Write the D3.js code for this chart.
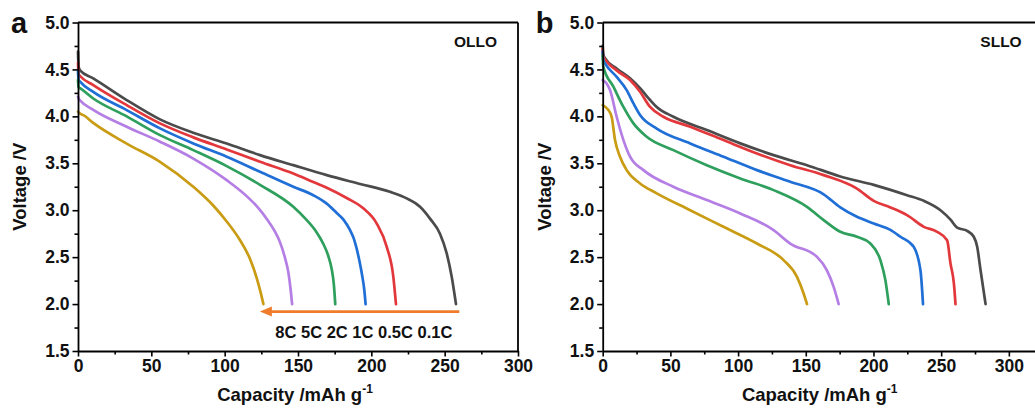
<!DOCTYPE html>
<html>
<head>
<meta charset="utf-8">
<script src="https://cdn.jsdelivr.net/npm/d3@7"></script>
<style>
  html, body { margin: 0; padding: 0; background: #fff; }
  svg { display: block; font-family: "Liberation Sans", Arial, sans-serif; }
</style>
</head>
<body>
<svg id="chart" width="1035" height="410"></svg>
<script>
// C-rates, drawn slowest to fastest
const rates = ["0.1C", "0.5C", "1C", "2C", "5C", "8C"];
const rateColors = ["#4b4b4b", "#e2383c", "#1f6fd6", "#2e9f5c", "#b47ee4", "#c99c14"];

// Discharge curves of OLLO: [capacity mAh/g, voltage V]
const ollo01C = [[0,4.69],[0.4,4.53],[1.4,4.49],[10.4,4.405],[33.2,4.174],[55.9,3.968],[78.6,3.825],[101.4,3.71],[124.1,3.587],[146.8,3.48],[169.6,3.374],[192.3,3.28],[212.7,3.196],[224.1,3.126],[233.2,3.036],[240,2.91],[246.8,2.75],[251.4,2.54],[254.8,2.29],[257.7,2.0]];
const ollo05C = [[0,4.57],[0.4,4.45],[1.4,4.43],[10.4,4.334],[33.2,4.12],[55.9,3.925],[78.6,3.776],[101.4,3.648],[124.1,3.516],[146.8,3.39],[160.4,3.3],[169.6,3.24],[183.2,3.13],[194.5,3.02],[203.6,2.86],[210.5,2.61],[215,2.29],[216.8,2.0]];
const ollo1C  = [[0,4.48],[0.4,4.39],[1.4,4.37],[10.4,4.26],[33.2,4.067],[55.9,3.872],[78.6,3.712],[101.4,3.57],[124.1,3.41],[146.8,3.25],[160.4,3.16],[169.6,3.07],[176.4,2.97],[181,2.9],[185.4,2.79],[188,2.7],[190,2.59],[192,2.45],[193.8,2.3],[195.2,2.15],[196.1,2.0]];
const ollo2C  = [[0,4.39],[0.4,4.31],[1.4,4.3],[10.4,4.19],[33.2,4.0],[55.9,3.8],[78.6,3.64],[101.4,3.47],[124.1,3.27],[146.8,3.036],[155,2.91],[162,2.78],[167,2.65],[170.5,2.52],[173,2.37],[174.5,2.2],[175.4,2.0]];
const ollo5C  = [[0,4.21],[0.4,4.19],[1.4,4.17],[10.4,4.07],[33.2,3.89],[55.9,3.73],[78.6,3.55],[101.4,3.32],[115,3.15],[122,3.04],[128.6,2.91],[134,2.78],[137.7,2.66],[141,2.5],[143.4,2.34],[145,2.15],[146,2.0]];
const ollo8C  = [[0,4.05],[1.4,4.03],[4,4.01],[10.4,3.93],[33.2,3.71],[55.9,3.516],[78.6,3.25],[92.2,3.05],[101.4,2.88],[110.5,2.68],[117.3,2.48],[121.8,2.28],[124.6,2.12],[126.4,2.0]];

// Discharge curves of SLLO: [capacity mAh/g, voltage V]
const sllo01C = [[0,4.75],[0.4,4.66],[1.7,4.62],[10.3,4.51],[20.2,4.405],[27.6,4.3],[35,4.174],[39.9,4.1],[52.2,3.996],[76.9,3.854],[101.6,3.712],[126.2,3.587],[150.9,3.48],[175.5,3.36],[200.2,3.27],[224.8,3.16],[237.2,3.1],[249.5,3.0],[256.9,2.9],[261.8,2.815],[269.2,2.78],[274.1,2.717],[276.6,2.61],[279.1,2.36],[282.8,2.0]];
const sllo05C = [[0,4.72],[0.4,4.64],[10.3,4.49],[20.2,4.387],[27.6,4.262],[35,4.1],[44.8,3.996],[64.6,3.89],[89.2,3.747],[113.9,3.605],[138.5,3.48],[163.2,3.374],[187.8,3.23],[200.2,3.1],[212.5,3.03],[224.8,2.948],[237.2,2.823],[247,2.77],[254.4,2.68],[256.9,2.432],[259.4,2.22],[260.6,2.0]];
const sllo1C  = [[0,4.69],[0.4,4.6],[1.7,4.565],[10.3,4.42],[17.7,4.28],[22.7,4.138],[27.6,4.014],[39.9,3.87],[64.6,3.712],[89.2,3.57],[113.9,3.427],[138.5,3.303],[163.2,3.17],[175.5,3.03],[187.8,2.93],[200.2,2.859],[212.5,2.79],[219.9,2.717],[229.7,2.61],[234.7,2.36],[236.6,2.0]];
const sllo2C  = [[0,4.65],[0.4,4.53],[7.9,4.316],[15.3,4.1],[22.7,3.925],[32.5,3.783],[52.2,3.64],[76.9,3.48],[101.6,3.339],[126.2,3.214],[150.9,3.036],[163.2,2.895],[175.5,2.77],[187.8,2.717],[197.7,2.645],[205.1,2.468],[208.8,2.255],[211.3,2.0]];
const sllo5C  = [[0,4.387],[2.9,4.35],[5.4,4.28],[10.3,3.996],[15.3,3.747],[20.2,3.57],[30.1,3.427],[52.2,3.25],[76.9,3.108],[101.6,2.965],[126.2,2.788],[138.5,2.645],[158.3,2.503],[165.6,2.36],[170.6,2.184],[174.3,2.0]];
const sllo8C  = [[0,4.12],[4.2,4.067],[6.6,3.996],[9.1,3.747],[12.8,3.57],[17.7,3.427],[27.6,3.285],[39.9,3.18],[64.6,3.0],[89.2,2.823],[113.9,2.645],[133.6,2.468],[143.5,2.29],[148.4,2.113],[150.9,2.0]];

// Axis settings
const yTicks = [1.5, 2.0, 2.5, 3.0, 3.5, 4.0, 4.5, 5.0];
const xTicks = [0, 50, 100, 150, 200, 250, 300];
const yTitle = "Voltage /V";
const xTitle = "Capacity /mAh g";

// Rate arrow in panel a (capacity from, capacity to, voltage)
const arrowFrom = 260, arrowTo = 124, arrowV = 1.92;
const arrowLabel = "8C 5C 2C 1C 0.5C 0.1C";

const panels = [
  { letter: "a", name: "OLLO", left: 78, xMax: 300, series: [ollo01C, ollo05C, ollo1C, ollo2C, ollo5C, ollo8C], arrow: true },
  { letter: "b", name: "SLLO", left: 602.7, xMax: 325, series: [sllo01C, sllo05C, sllo1C, sllo2C, sllo5C, sllo8C], arrow: false }
];

const svg = d3.select("#chart");
const plotW = 440, plotTop = 22.5, plotBottom = 351;

panels.forEach(p => {
  const x = d3.scaleLinear().domain([0, p.xMax]).range([p.left, p.left + plotW]);
  const y = d3.scaleLinear().domain([1.5, 5.0]).range([plotBottom, plotTop]);
  const g = svg.append("g");

  // curves
  const line = d3.line().x(d => x(d[0])).y(d => y(d[1])).curve(d3.curveMonotoneX);
  p.series.forEach((s, i) => {
    g.append("path").datum(s).attr("d", line)
      .attr("fill", "none").attr("stroke", rateColors[i])
      .attr("stroke-width", 2.7).attr("stroke-linejoin", "round").attr("stroke-linecap", "round");
  });

  // frame: top and right edges
  g.append("line").attr("x1", x(0)).attr("x2", p.left + plotW).attr("y1", plotTop).attr("y2", plotTop)
    .attr("stroke", "#000").attr("stroke-width", 1.8);
  g.append("line").attr("x1", p.left + plotW).attr("x2", p.left + plotW).attr("y1", plotTop).attr("y2", plotBottom)
    .attr("stroke", "#000").attr("stroke-width", 1.8);

  // minor ticks
  const xMinor = d3.range(25, p.xMax + 1, 50);
  g.append("g").attr("transform", `translate(0,${plotBottom})`)
    .call(d3.axisBottom(x).tickValues(xMinor).tickSize(3.5).tickFormat(""))
    .call(a => a.select(".domain").remove())
    .selectAll("line").attr("stroke-width", 1.6);
  const yMinor = d3.range(1.75, 5, 0.5);
  g.append("g").attr("transform", `translate(${x(0)},0)`)
    .call(d3.axisLeft(y).tickValues(yMinor).tickSize(3.5).tickFormat(""))
    .call(a => a.select(".domain").remove())
    .selectAll("line").attr("stroke-width", 1.6);

  // major axes
  const xa = g.append("g").attr("transform", `translate(0,${plotBottom})`)
    .call(d3.axisBottom(x).tickValues(xTicks).tickSize(5.5).tickSizeOuter(0).tickPadding(3).tickFormat(d3.format("d")));
  const ya = g.append("g").attr("transform", `translate(${x(0)},0)`)
    .call(d3.axisLeft(y).tickValues(yTicks).tickSize(5.5).tickSizeOuter(0).tickPadding(3).tickFormat(d3.format(".1f")));
  [xa, ya].forEach(a => {
    a.select(".domain").attr("stroke-width", 1.8);
    a.selectAll(".tick line").attr("stroke-width", 1.6);
    a.selectAll("text").attr("font-size", 17.5).attr("font-weight", "bold").attr("fill", "#111")
      .attr("font-family", "'Liberation Sans', Arial, sans-serif");
  });

  // axis titles
  const xt = g.append("text").attr("x", p.left + plotW / 2 - 3).attr("y", 401)
    .attr("text-anchor", "middle").attr("font-size", 18.5).attr("font-weight", "bold").attr("fill", "#111");
  xt.append("tspan").text(xTitle);
  xt.append("tspan").attr("font-size", 12).attr("dy", -8).text("-1");
  g.append("text")
    .attr("transform", `translate(${p.left - 52},${(plotTop + plotBottom) / 2}) rotate(-90)`)
    .attr("text-anchor", "middle").attr("font-size", 18.5).attr("font-weight", "bold").attr("fill", "#111")
    .text(yTitle);

  // panel letter and sample name
  g.append("text").attr("x", p.left - 67).attr("y", 33).attr("font-size", 29).attr("font-weight", "bold")
    .attr("fill", "#111").text(p.letter);
  g.append("text").attr("x", p.left + plotW - 21).attr("y", 47).attr("text-anchor", "end")
    .attr("font-size", 15.5).attr("font-weight", "bold").attr("fill", "#111").text(p.name);

  if (p.arrow) {
    const ay = y(arrowV);
    const x1 = x(arrowFrom), x2 = x(arrowTo);
    g.append("line").attr("x1", x1).attr("x2", x2 + 9).attr("y1", ay).attr("y2", ay)
      .attr("stroke", "#f07c2b").attr("stroke-width", 2.6);
    g.append("path").attr("d", `M${x2},${ay} L${x2 + 12},${ay - 5} L${x2 + 12},${ay + 5} Z`)
      .attr("fill", "#f07c2b");
    g.append("text").attr("x", x(arrowFrom) - 7).attr("y", ay + 26.5).attr("text-anchor", "end")
      .attr("font-size", 16.5).attr("font-weight", "bold").attr("fill", "#111").text(arrowLabel);
  }
});
</script>
</body>
</html>
